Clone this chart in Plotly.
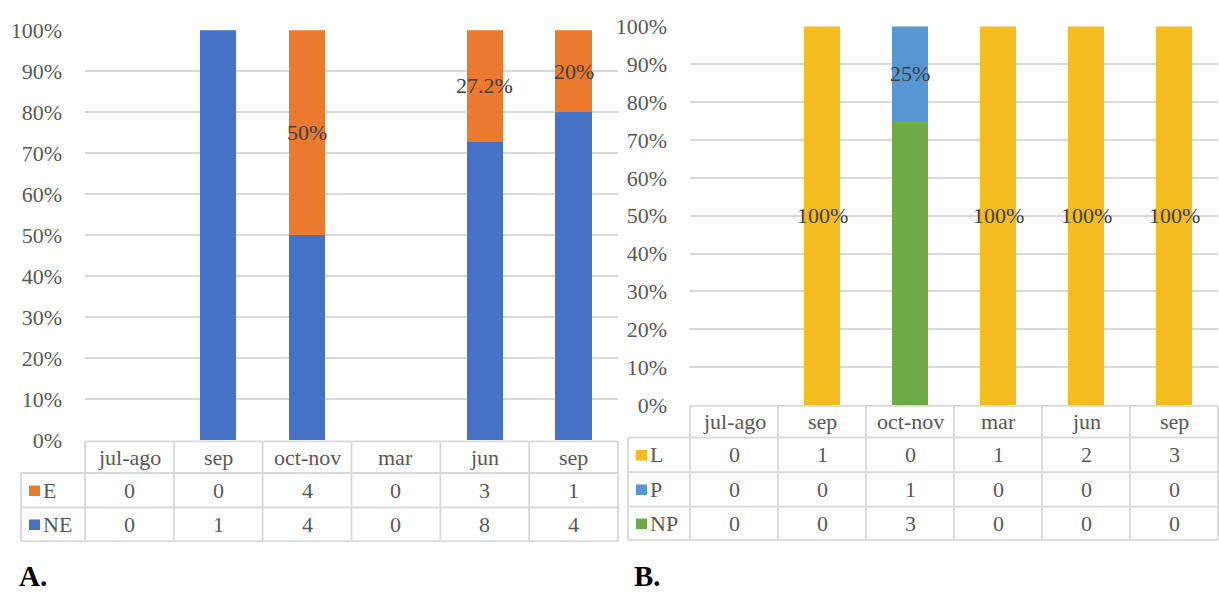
import plotly.graph_objects as go

# ---- data ----
months = ["jul-ago", "sep", "oct-nov", "mar", "jun", "sep"]

# panel A: counts shown in the data table, shares drawn as stacked bars
a_series = ["E", "NE"]
e_counts = [0, 0, 4, 0, 3, 1]
ne_counts = [0, 1, 4, 0, 8, 4]
e_pct = [0, 0, 50, 0, 27.2, 20]
ne_pct = [0, 100, 50, 0, 72.8, 80]

# panel B
b_series = ["L", "P", "NP"]
l_counts = [0, 1, 0, 1, 2, 3]
p_counts = [0, 0, 1, 0, 0, 0]
np_counts = [0, 0, 3, 0, 0, 0]
l_pct = [0, 100, 0, 100, 100, 100]
p_pct = [0, 0, 25, 0, 0, 0]
np_pct = [0, 0, 75, 0, 0, 0]

panel_letters = ["A.", "B."]

# ---- styling ----
W, H = 1219, 601
FONT = "Liberation Serif"
GREY = "#595959"
LINE = "#D9D9D9"
COL = {"E": "#EC7A2E", "NE": "#4672C6", "L": "#F4BC1E", "P": "#5696D2", "NP": "#6CAB45"}


def px(x):
    return x / W


def py(y):
    return 1 - y / H


# pixel geometry of each panel
A = dict(x0=85, x1=618, ytop=19, ybot=447, key_x=21, rows=[448, 481, 517, 552], letter=(17, 588))
B = dict(x0=690, x1=1218, ytop=15, ybot=410, key_x=628, rows=[411, 444, 480, 516, 551], letter=(632, 588))

fig = go.Figure()
xs = list(range(len(months)))
BAR_W = 0.41


def add_stack(names, pcts, labelled, axis_x, axis_y):
    base = [0.0] * len(months)
    for name, vals in zip(names, pcts):
        fig.add_trace(go.Bar(
            x=xs, y=vals, name=name, xaxis=axis_x, yaxis=axis_y, width=BAR_W,
            marker=dict(color=COL[name], line=dict(width=0)), showlegend=False,
            hoverinfo="skip",
        ))
        if name in labelled:
            for i, v in enumerate(vals):
                if v > 0:
                    fig.add_annotation(
                        x=i, y=base[i] + v / 2, xref=axis_x, yref=axis_y,
                        text=f"{v:g}%", showarrow=False, yanchor="middle",
                        font=dict(family=FONT, size=22, color="#404040"),
                    )
        base = [b + v for b, v in zip(base, vals)]


add_stack(["NE", "E"], [ne_pct, e_pct], {"E"}, "x", "y")
add_stack(["NP", "P", "L"], [np_pct, p_pct, l_pct], {"L", "P"}, "x2", "y2")


def axis_pair(g):
    xa = dict(domain=[px(g["x0"]), px(g["x1"])], range=[-0.5, len(months) - 0.5],
              showticklabels=False, showgrid=False, zeroline=False, showline=False, fixedrange=True)
    ya = dict(domain=[py(g["ybot"]), py(g["ytop"])], range=[0, 100], dtick=10, ticksuffix="%",
              showgrid=True, gridcolor=LINE, gridwidth=1.5, zeroline=False, showline=False,
              ticks="", ticklabelstandoff=22, ticklabeloverflow="allow",
              tickfont=dict(family=FONT, size=22, color=GREY), fixedrange=True)
    return xa, ya


xa, ya = axis_pair(A)
xb, yb = axis_pair(B)
yb["anchor"] = "x2"
xb["anchor"] = "y2"

shapes = []


def hline(x0, x1, y):
    shapes.append(dict(type="line", xref="paper", yref="paper", x0=px(x0), x1=px(x1),
                       y0=py(y), y1=py(y), line=dict(color=LINE, width=1.8)))


def vline(x, y0, y1):
    shapes.append(dict(type="line", xref="paper", yref="paper", x0=px(x), x1=px(x),
                       y0=py(y0), y1=py(y1), line=dict(color=LINE, width=1.8)))


def data_table(g, axis_x, names, counts):
    rows = g["rows"]
    colw = (g["x1"] - g["x0"]) / len(months)
    # borders
    hline(g["x0"], g["x1"], rows[0])
    for y in rows[1:]:
        hline(g["key_x"], g["x1"], y)
    for i in range(len(months) + 1):
        vline(g["x0"] + i * colw, rows[0], rows[-1])
    vline(g["key_x"], rows[1], rows[-1])
    # header
    for i, m in enumerate(months):
        fig.add_annotation(x=i, y=py((rows[0] + rows[1]) / 2), xref=axis_x, yref="paper",
                           yanchor="middle", text=m, showarrow=False,
                           font=dict(family=FONT, size=22, color=GREY))
    # series rows with legend keys
    for r, (name, vals) in enumerate(zip(names, counts)):
        yc = (rows[r + 1] + rows[r + 2]) / 2
        kx = g["key_x"] + 8
        shapes.append(dict(type="rect", xref="paper", yref="paper", x0=px(kx), x1=px(kx + 11),
                           y0=py(yc + 6), y1=py(yc - 5), fillcolor=COL[name], line=dict(width=0)))
        fig.add_annotation(x=px(kx + 12), y=py(yc), xref="paper", yref="paper", xanchor="left",
                           yanchor="middle", text=name, showarrow=False,
                           font=dict(family=FONT, size=22, color=GREY))
        for i, v in enumerate(vals):
            fig.add_annotation(x=i, y=py(yc), xref=axis_x, yref="paper", yanchor="middle",
                               text=str(v), showarrow=False,
                               font=dict(family=FONT, size=22, color=GREY))


data_table(A, "x", a_series, [e_counts, ne_counts])
data_table(B, "x2", b_series, [l_counts, p_counts, np_counts])

for g, letter in zip([A, B], panel_letters):
    lx, ly = g["letter"]
    fig.add_annotation(x=px(lx), y=py(ly), xref="paper", yref="paper", xanchor="left",
                       yanchor="middle", text=f"<b>{letter}</b>", showarrow=False,
                       font=dict(family=FONT, size=29, color="black"))

fig.update_layout(
    width=W, height=H, margin=dict(l=0, r=0, t=0, b=0),
    paper_bgcolor="white", plot_bgcolor="white",
    barmode="stack", bargap=0,
    xaxis=xa, yaxis=ya, xaxis2=xb, yaxis2=yb,
    shapes=shapes, showlegend=False,
)

fig.write_html("out.html")
